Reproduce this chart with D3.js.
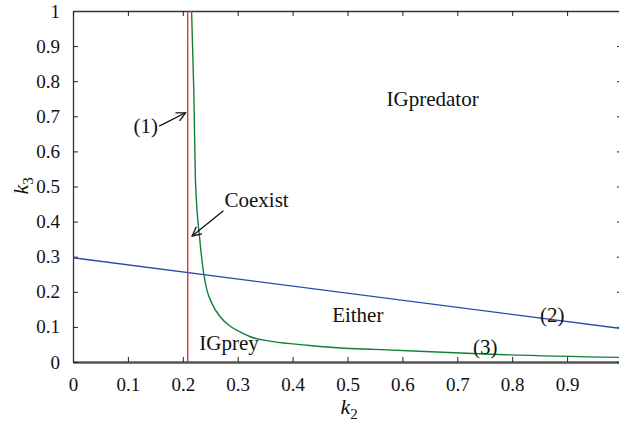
<!DOCTYPE html>
<html>
<head>
<meta charset="utf-8">
<script src="https://cdn.jsdelivr.net/npm/d3@7"></script>
<style>
  body { margin: 0; background: #fff; }
</style>
</head>
<body>
<div id="chart"></div>
<script>
var SERIF = "'Liberation Serif'";

// tick values
var xTicks = [0, 0.1, 0.2, 0.3, 0.4, 0.5, 0.6, 0.7, 0.8, 0.9, 1];
var yTicks = [0, 0.1, 0.2, 0.3, 0.4, 0.5, 0.6, 0.7, 0.8, 0.9, 1];

// curve (1): vertical boundary
var curve1 = [[0.209, 0], [0.209, 1]];
// curve (2): straight boundary
var curve2 = [[0, 0.297], [1, 0.095]];
// curve (3)
var curve3K2 = [0.216, 0.220, 0.223, 0.231, 0.238, 0.244, 0.253, 0.268, 0.287, 0.305, 0.323, 0.365, 0.426, 0.487, 0.550, 0.760, 1.0];
var curve3K3 = [1.0, 0.775, 0.519, 0.348, 0.253, 0.205, 0.167, 0.129, 0.101, 0.085, 0.072, 0.058, 0.048, 0.040, 0.036, 0.022, 0.013];

// region labels [text, k2, k3, anchor]
var labels = [
  ["IGpredator", 0.655, 0.728, "middle"],
  ["Coexist", 0.276, 0.442, "start"],
  ["Either", 0.472, 0.115, "start"],
  ["IGprey", 0.230, 0.034, "start"],
  ["(1)", 0.155, 0.652, "end"],
  ["(2)", 0.873, 0.113, "middle"],
  ["(3)", 0.751, 0.024, "middle"]
];
// arrows [fromK2, fromK3, toK2, toK3]
var arrows = [
  [0.157, 0.672, 0.205, 0.710],
  [0.274, 0.431, 0.217, 0.359]
];

var W = 619, H = 431;
var margin = {top: 11, left: 73},
    width = 549, height = 351;

var svg = d3.select("#chart").append("svg")
  .attr("width", W).attr("height", H);

var g = svg.append("g")
  .attr("transform", "translate(" + margin.left + "," + margin.top + ")");

var x = d3.scaleLinear().domain([0, 1]).range([0, width]);
var y = d3.scaleLinear().domain([0, 1]).range([height, 0]);

var fmt = function(d) { return d === 0 ? "0" : d === 1 ? "1" : d3.format(".1f")(d); };

// axes with inward ticks
var xAxis = g.append("g")
  .attr("transform", "translate(0," + height + ")")
  .call(d3.axisBottom(x).tickValues(xTicks).tickFormat(fmt).tickSizeInner(-5).tickSizeOuter(0).tickPadding(16));
var yAxis = g.append("g")
  .call(d3.axisLeft(y).tickValues(yTicks).tickFormat(fmt).tickSizeInner(-5).tickSizeOuter(0).tickPadding(13));
var topAxis = g.append("g")
  .call(d3.axisTop(x).tickValues(xTicks).tickFormat("").tickSizeInner(-5).tickSizeOuter(0));
var rightAxis = g.append("g")
  .attr("transform", "translate(" + width + ",0)")
  .call(d3.axisRight(y).tickValues(yTicks).tickFormat("").tickSizeInner(-5).tickSizeOuter(0));

[xAxis, yAxis, topAxis, rightAxis].forEach(function(a) {
  a.selectAll("text")
    .style("font-family", SERIF)
    .style("font-size", "19px")
    .attr("fill", "#111");
  a.selectAll(".tick line").attr("stroke", "#222").attr("stroke-width", 1);
  a.select(".domain").attr("stroke", "#333").attr("stroke-width", 1.3);
});
xAxis.select(".domain").attr("stroke", "#555").attr("stroke-width", 2.4);

var line = d3.line()
  .x(function(d) { return x(d[0]); })
  .y(function(d) { return y(d[1]); });

g.append("path").datum(curve2)
  .attr("fill", "none").attr("stroke", "#2b4aa8").attr("stroke-width", 1.3)
  .attr("d", line);

g.append("path").datum(curve3K2.map(function(k, i) { return [k, curve3K3[i]]; }))
  .attr("fill", "none").attr("stroke", "#118038").attr("stroke-width", 1.4)
  .attr("d", d3.line().curve(d3.curveMonotoneX)
    .x(function(d) { return x(d[0]); })
    .y(function(d) { return y(d[1]); }));

g.append("path").datum(curve1)
  .attr("fill", "none").attr("stroke", "#e8202a").attr("stroke-width", 1.3)
  .attr("d", line);

// arrows
svg.append("defs").append("marker")
  .attr("id", "head")
  .attr("viewBox", "-10 -6 12 12")
  .attr("refX", 0).attr("refY", 0)
  .attr("markerWidth", 12).attr("markerHeight", 12)
  .attr("markerUnits", "userSpaceOnUse")
  .attr("orient", "auto")
  .append("path")
  .attr("d", "M-9,-4.5L0,0L-9,4.5")
  .attr("fill", "none").attr("stroke", "#111").attr("stroke-width", 1.3);

g.selectAll(".arrow").data(arrows).enter().append("line")
  .attr("class", "arrow")
  .attr("x1", function(d) { return x(d[0]); })
  .attr("y1", function(d) { return y(d[1]); })
  .attr("x2", function(d) { return x(d[2]); })
  .attr("y2", function(d) { return y(d[3]); })
  .attr("stroke", "#111").attr("stroke-width", 1.3)
  .attr("marker-end", "url(#head)");

g.selectAll(".lbl").data(labels).enter().append("text")
  .attr("class", "lbl")
  .attr("x", function(d) { return x(d[1]); })
  .attr("y", function(d) { return y(d[2]); })
  .attr("text-anchor", function(d) { return d[3]; })
  .attr("fill", "#111")
  .style("font-family", SERIF)
  .style("font-size", "21px")
  .text(function(d) { return d[0]; });

// axis titles
var xt = svg.append("text")
  .attr("x", margin.left + x(0.5) - 7).attr("y", 414)
  .attr("fill", "#111")
  .style("font-family", SERIF)
  .style("font-size", "22px");
xt.append("tspan").style("font-style", "italic").text("k");
xt.append("tspan").attr("dy", 5).style("font-size", "15px").text("2");

var yt = svg.append("text")
  .attr("transform", "translate(28," + (margin.top + height / 2 + 8) + ") rotate(-90)")
  .attr("fill", "#111")
  .style("font-family", SERIF)
  .style("font-size", "22px");
yt.append("tspan").style("font-style", "italic").text("k");
yt.append("tspan").attr("dy", 5).style("font-size", "15px").text("3");
</script>
</body>
</html>
